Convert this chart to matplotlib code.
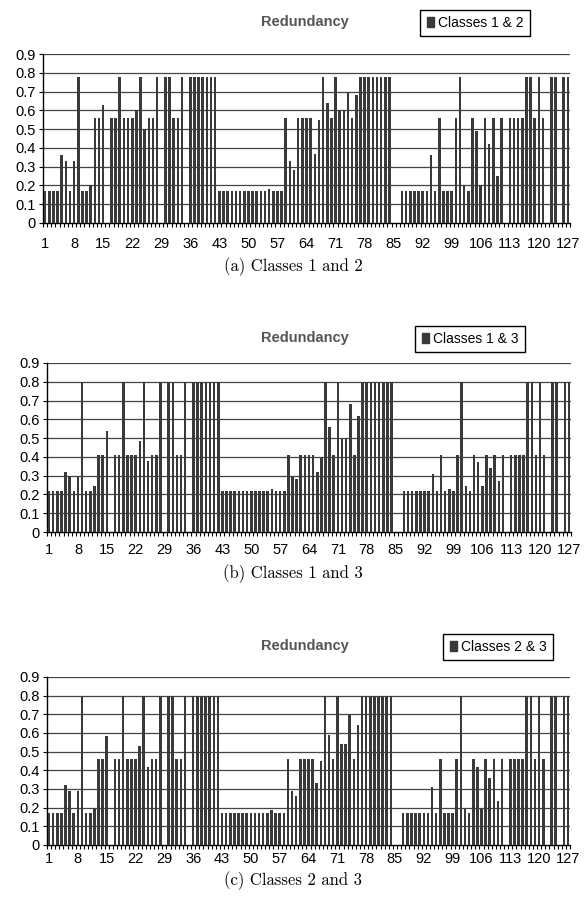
import numpy as np
import matplotlib
matplotlib.use("Agg")
import matplotlib.pyplot as plt
from matplotlib.patches import Patch

# redundancy values per class pair, categories 1..127
red_12 = [
    0.17, 0.17, 0.17, 0.17, 0.36, 0.33, 0.17, 0.33, 0.78, 0.17,
    0.17, 0.20, 0.56, 0.56, 0.63, 0, 0.56, 0.56, 0.78, 0.56,
    0.56, 0.56, 0.60, 0.78, 0.50, 0.56, 0.56, 0.78, 0, 0.78,
    0.78, 0.56, 0.56, 0.78, 0, 0.78, 0.78, 0.78, 0.78, 0.78,
    0.78, 0.78, 0.17, 0.17, 0.17, 0.17, 0.17, 0.17, 0.17, 0.17,
    0.17, 0.17, 0.17, 0.17, 0.18, 0.17, 0.17, 0.17, 0.56, 0.33,
    0.28, 0.56, 0.56, 0.56, 0.56, 0.37, 0.55, 0.78, 0.64, 0.56,
    0.78, 0.60, 0.60, 0.70, 0.56, 0.68, 0.78, 0.78, 0.78, 0.78,
    0.78, 0.78, 0.78, 0.78, 0, 0, 0.17, 0.17, 0.17, 0.17,
    0.17, 0.17, 0.17, 0.36, 0.17, 0.56, 0.17, 0.17, 0.17, 0.56,
    0.78, 0.20, 0.17, 0.56, 0.49, 0.20, 0.56, 0.42, 0.56, 0.25,
    0.56, 0, 0.56, 0.56, 0.56, 0.56, 0.78, 0.78, 0.56, 0.78,
    0.56, 0, 0.78, 0.78, 0, 0.78, 0.78,
]

red_13 = [
    0.22, 0.22, 0.22, 0.22, 0.32, 0.30, 0.22, 0.30, 0.80, 0.22,
    0.22, 0.245, 0.41, 0.41, 0.54, 0, 0.41, 0.41, 0.80, 0.41,
    0.41, 0.41, 0.485, 0.80, 0.38, 0.41, 0.41, 0.80, 0, 0.80,
    0.80, 0.41, 0.41, 0.80, 0, 0.80, 0.80, 0.80, 0.80, 0.80,
    0.80, 0.80, 0.22, 0.22, 0.22, 0.22, 0.22, 0.22, 0.22, 0.22,
    0.22, 0.22, 0.22, 0.22, 0.23, 0.22, 0.22, 0.22, 0.41, 0.30,
    0.28, 0.41, 0.41, 0.41, 0.41, 0.32, 0.40, 0.80, 0.56, 0.41,
    0.80, 0.50, 0.50, 0.68, 0.41, 0.62, 0.80, 0.80, 0.80, 0.80,
    0.80, 0.80, 0.80, 0.80, 0, 0, 0.22, 0.22, 0.22, 0.22,
    0.22, 0.22, 0.22, 0.31, 0.22, 0.41, 0.22, 0.23, 0.22, 0.41,
    0.80, 0.245, 0.22, 0.41, 0.375, 0.245, 0.41, 0.34, 0.41, 0.27,
    0.41, 0, 0.41, 0.41, 0.41, 0.41, 0.80, 0.80, 0.41, 0.80,
    0.41, 0, 0.80, 0.80, 0, 0.80, 0.80,
]

red_23 = [
    0.17, 0.17, 0.17, 0.17, 0.32, 0.29, 0.17, 0.29, 0.80, 0.17,
    0.17, 0.195, 0.46, 0.46, 0.585, 0, 0.46, 0.46, 0.80, 0.46,
    0.46, 0.46, 0.53, 0.80, 0.42, 0.46, 0.46, 0.80, 0, 0.80,
    0.80, 0.46, 0.46, 0.80, 0, 0.80, 0.80, 0.80, 0.80, 0.80,
    0.80, 0.80, 0.17, 0.17, 0.17, 0.17, 0.17, 0.17, 0.17, 0.17,
    0.17, 0.17, 0.17, 0.17, 0.19, 0.17, 0.17, 0.17, 0.46, 0.29,
    0.26, 0.46, 0.46, 0.46, 0.46, 0.33, 0.45, 0.80, 0.59, 0.46,
    0.80, 0.54, 0.54, 0.695, 0.46, 0.645, 0.80, 0.80, 0.80, 0.80,
    0.80, 0.80, 0.80, 0.80, 0, 0, 0.17, 0.17, 0.17, 0.17,
    0.17, 0.17, 0.17, 0.31, 0.17, 0.46, 0.17, 0.17, 0.17, 0.46,
    0.80, 0.195, 0.17, 0.46, 0.42, 0.195, 0.46, 0.36, 0.46, 0.235,
    0.46, 0, 0.46, 0.46, 0.46, 0.46, 0.80, 0.80, 0.46, 0.80,
    0.46, 0, 0.80, 0.80, 0, 0.80, 0.80,
]

series = [red_12, red_13, red_23]
legend_labels = ["Classes 1 & 2", "Classes 1 & 3", "Classes 2 & 3"]
captions = ["(a) Classes 1 and 2", "(b) Classes 1 and 3", "(c) Classes 2 and 3"]
xtick_labels = list(range(1, 128, 7))
yticks = [round(0.1 * k, 1) for k in range(10)]

W, H = 586, 914
fig = plt.figure(figsize=(W / 100, H / 100), dpi=100)

def fx(px):
    return px / W

def fy(py):
    return 1 - py / H

# pixel boxes: (left, right, top, bottom) of the plot area
boxes = [(43, 570, 54, 223), (47, 571, 363, 532), (47, 570, 677, 845)]
xlabel_pad = [10, 8, 5]
title_y = [22, 338, 646]
legend_xy = [(475, 23), (470, 339), (498, 647)]
caption_y = [267, 574, 881]

sans = ["Liberation Sans", "DejaVu Sans"]
bar_color = "#3a3a3a"

for k, vals in enumerate(series):
    l, r, t, b = boxes[k]
    ax = fig.add_axes([fx(l), fy(b), fx(r) - fx(l), fy(t) - fy(b)])
    x = np.arange(1, len(vals) + 1)
    ax.bar(x, vals, width=0.62, color=bar_color, zorder=3)

    ax.set_xlim(0.5, 127.5)
    ax.set_ylim(0, 0.9)
    for yv in yticks[1:]:
        ax.axhline(yv, color="#444444", lw=0.9, zorder=1)

    ax.set_yticks(yticks)
    ax.set_yticklabels([("0" if v == 0 else f"{v:.1f}") for v in yticks],
                       family=sans, fontsize=10.5)
    ax.set_xticks(xtick_labels)
    ax.set_xticklabels([str(v) for v in xtick_labels], family=sans, fontsize=10.5)
    ax.set_xticks(np.arange(0.5, 128, 1), minor=True)
    ax.tick_params(axis="x", which="major", length=0, pad=xlabel_pad[k])
    ax.tick_params(axis="x", which="minor", length=3, direction="out", width=0.8)
    ax.tick_params(axis="y", length=3, direction="out", width=0.8, pad=2)

    for s in ["top", "right"]:
        ax.spines[s].set_visible(False)
    ax.spines["left"].set_linewidth(1.0)
    ax.spines["bottom"].set_linewidth(1.0)

    fig.text(fx(305), fy(title_y[k]), "Redundancy", ha="center", va="center",
             family=sans, fontsize=10.5, fontweight="bold", color="#555555")

    handle = Patch(facecolor=bar_color, edgecolor=bar_color)
    lx, ly = legend_xy[k]
    fig.legend([handle], [legend_labels[k]], loc="center",
               bbox_to_anchor=(fx(lx), fy(ly)), frameon=True, fancybox=False,
               edgecolor="black", framealpha=1, handlelength=0.5,
               handleheight=0.8, handletextpad=0.3, borderpad=0.45,
               prop={"family": sans, "size": 10})

    fig.text(0.5, fy(caption_y[k]), captions[k], ha="center", va="center",
             family="cmr10", fontsize=12)

fig.savefig("out.png", dpi=100)
